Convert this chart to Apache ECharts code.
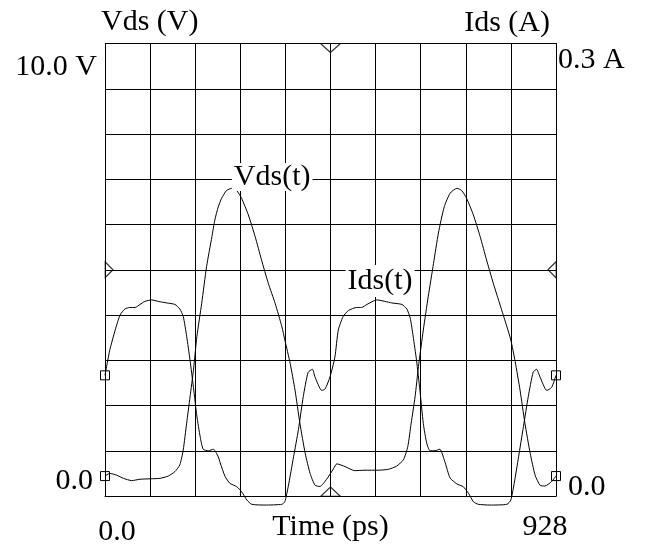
<!DOCTYPE html>
<html>
<head>
    <meta charset="utf-8">
    <script src="https://cdn.jsdelivr.net/npm/echarts@6/dist/echarts.min.js"></script>
</head>
<body style="margin:0;background:#fff">
    <div id="main" style="width:645px;height:544px;"></div>
	<script type="text/javascript">
	// time axis (ps)
	var tMin = 0, tMax = 928;
	var xTickLabels = ['0.0', '928'];
	var vLeftLabels = ['0.0', '10.0 V'];
	var iRightLabels = ['0.0', '0.3 A'];

	// Vds(t), volts
	var vdsTime = [0,10,24,38,55,72,93,113,130,144,154,161,168,175,182,189,199,209,220,226,233,240,250,261,
		271,281,295,309,322,336,350,364,370,381,391,401,412,422,432,442,456,470,477,494,514,535,562,583,
		600,614,623,630,638,645,655,665,676,686,698,710,724,734,744,758,772,785,799,813,827,835,844,854,
		864,875,885,895,905,919,928];
	var vdsVolt = [0.44,0.50,0.46,0.39,0.34,0.37,0.38,0.39,0.44,0.54,0.69,1.02,1.61,2.19,2.78,3.52,4.26,5.07,5.73,6.10,6.39,6.58,6.75,6.80,
		6.75,6.58,6.21,5.73,5.22,4.70,4.26,3.74,3.45,2.93,2.34,1.61,0.94,0.50,0.24,0.21,0.37,0.60,0.71,0.65,0.56,0.57,0.57,0.59,
		0.66,0.80,1.09,1.61,2.19,2.86,3.67,4.40,5.14,5.81,6.39,6.69,6.80,6.75,6.58,6.21,5.73,5.22,4.70,4.22,3.74,3.45,2.97,2.34,
		1.61,0.94,0.46,0.24,0.22,0.32,0.44];

	// Ids(t), amps
	var idsTime = [0,10,21,31,41,51,62,72,82,96,110,127,144,154,161,168,175,182,189,196,202,213,223,233,237,247,257,271,281,
		292,302,329,364,370,377,388,398,408,418,427,432,446,453,463,473,480,490,501,518,528,539,559,590,611,621,628,634,
		641,648,655,662,669,679,689,700,710,724,737,748,758,768,792,827,835,842,851,861,871,881,888,895,909,919,928];
	var idsAmp = [0.080,0.097,0.110,0.120,0.124,0.125,0.125,0.127,0.129,0.130,0.129,0.128,0.127,0.124,0.119,0.106,0.090,0.072,0.053,0.039,0.031,0.030,0.031,0.026,0.022,0.013,0.0084,0.0062,0.0029,
		-0.0027,-0.0055,-0.0060,-0.0055,-0.0038,0.0062,0.026,0.044,0.066,0.082,0.084,0.079,0.070,0.071,0.079,0.092,0.110,0.119,0.123,0.125,0.125,0.127,0.130,0.128,0.127,0.124,0.118,0.106,
		0.090,0.070,0.048,0.035,0.030,0.030,0.031,0.022,0.012,0.0080,0.0062,0.0018,-0.0038,-0.0055,-0.0060,-0.0055,-0.0027,0.0084,0.026,0.046,0.066,0.082,0.084,0.079,0.070,0.072,0.080];

	// trace tags and centre markers (data coords)
	var vdsTagAt = [344, 7.05];
	var idsTagAt = [566, 0.1425];
	var centreMarks = [[464, 10], [464, 0], [0, 5], [928, 5]];

	var font = "'Liberation Serif', 'Times New Roman', serif";
	var fs = 30;

	function withEnds(ts, vs) {
		return ts.map(function (t, i) {
			var end = (i === 0 || i === ts.length - 1);
			return { value: [t, vs[i]], symbol: end ? 'rect' : 'none', symbolSize: 9 };
		});
	}

	var markStyle = [
		{ symbolRotate: 180, symbolSize: [20, 9], symbolOffset: [0, 4.5] },
		{ symbolRotate: 0, symbolSize: [19, 9], symbolOffset: [0, -4.5] },
		{ symbolRotate: -90, symbolSize: [16, 8], symbolOffset: [4, 0] },
		{ symbolRotate: 90, symbolSize: [16, 8], symbolOffset: [-4, 0] }
	];

	var myChart = echarts.init(document.getElementById('main'));
	myChart.setOption({
		backgroundColor: '#fff',
		animation: false,
		textStyle: { fontFamily: font, color: '#000' },
		grid: { left: 105, right: 89, top: 43.5, bottom: 48, outerBoundsMode: 'none', containLabel: false },
		xAxis: {
			type: 'value', min: tMin, max: tMax, interval: 92.8,
			name: 'Time (ps)', nameLocation: 'middle', nameGap: 31, nameMoveOverlap: false,
			nameTextStyle: { fontSize: fs, fontFamily: font, color: '#000', verticalAlign: 'middle' },
			axisLine: { show: true, lineStyle: { color: '#000', width: 1 } },
			axisTick: { show: false },
			splitLine: { show: true, lineStyle: { color: '#000', width: 1 } },
			axisLabel: {
				margin: 31, verticalAlign: 'middle', color: '#000',
				formatter: function (v) {
					if (v === tMin) return '{a|' + xTickLabels[0] + '}';
					if (Math.abs(v - tMax) < 1e-6) return '{b|' + xTickLabels[1] + '}';
					return '';
				},
				rich: {
					a: { fontSize: fs, fontFamily: font, color: '#000', padding: [10, 0, 0, 24] },
					b: { fontSize: fs, fontFamily: font, color: '#000', padding: [0, 22, 0, 0] }
				}
			}
		},
		yAxis: [{
			type: 'value', min: 0, max: 10, interval: 1, position: 'left',
			name: 'Vds (V)', nameLocation: 'end', nameGap: 21, nameMoveOverlap: false,
			nameTextStyle: { fontSize: fs, fontFamily: font, color: '#000', align: 'left', verticalAlign: 'middle', padding: [0, 0, 0, -4] },
			axisLine: { show: true, lineStyle: { color: '#000', width: 1 } },
			axisTick: { show: false },
			splitLine: { show: true, lineStyle: { color: '#000', width: 1 } },
			axisLabel: {
				margin: 8, color: '#000',
				formatter: function (v) {
					if (v === 0) return '{b|' + vLeftLabels[0] + '}';
					if (v === 10) return '{t|' + vLeftLabels[1] + '}';
					return '';
				},
				rich: {
					t: { fontSize: fs, fontFamily: font, color: '#000', padding: [47, 0, 0, 0] },
					b: { fontSize: fs, fontFamily: font, color: '#000', padding: [0, 4, 30, 0] }
				}
			}
		}, {
			type: 'value', min: 0, max: 0.3, interval: 0.03, position: 'right',
			name: 'Ids (A)', nameLocation: 'end', nameGap: 20, nameMoveOverlap: false,
			nameTextStyle: { fontSize: fs, fontFamily: font, color: '#000', align: 'right', verticalAlign: 'middle', padding: [0, 6, 0, 0] },
			axisLine: { show: true, lineStyle: { color: '#000', width: 1 } },
			axisTick: { show: false },
			splitLine: { show: false },
			axisLabel: {
				margin: 2, color: '#000',
				formatter: function (v) {
					if (v === 0) return '{b|' + iRightLabels[0] + '}';
					if (Math.abs(v - 0.3) < 1e-9) return '{t|' + iRightLabels[1] + '}';
					return '';
				},
				rich: {
					t: { fontSize: fs, fontFamily: font, color: '#000', padding: [33, 0, 0, 0] },
					b: { fontSize: fs, fontFamily: font, color: '#000', padding: [0, 0, 18, 10] }
				}
			}
		}],
		series: [
			{
				name: 'Vds(t)', type: 'line', yAxisIndex: 0, clip: false, smooth: 0.2,
				data: withEnds(vdsTime, vdsVolt),
				symbol: 'rect', showSymbol: true,
				itemStyle: { color: 'rgba(0,0,0,0)', borderColor: '#000', borderWidth: 1 },
				lineStyle: { color: '#000', width: 1 },
				markPoint: {
					symbol: 'rect', symbolSize: 1, itemStyle: { color: 'rgba(0,0,0,0)' },
					label: { show: true, position: 'inside', formatter: '{b}', fontSize: fs, fontFamily: font, color: '#000', backgroundColor: '#fff', padding: [0, 2], lineHeight: 28 },
					data: [{ name: 'Vds(t)', coord: vdsTagAt }]
				}
			},
			{
				name: 'Ids(t)', type: 'line', yAxisIndex: 1, clip: false, smooth: 0.2,
				data: withEnds(idsTime, idsAmp),
				symbol: 'rect', showSymbol: true,
				itemStyle: { color: 'rgba(0,0,0,0)', borderColor: '#000', borderWidth: 1 },
				lineStyle: { color: '#000', width: 1 },
				markPoint: {
					symbol: 'rect', symbolSize: 1, itemStyle: { color: 'rgba(0,0,0,0)' },
					label: { show: true, position: 'inside', formatter: '{b}', fontSize: fs, fontFamily: font, color: '#000', backgroundColor: '#fff', padding: [2, 2], lineHeight: 28 },
					data: [{ name: 'Ids(t)', coord: idsTagAt }]
				}
			},
			{
				type: 'scatter', yAxisIndex: 0, clip: false, silent: true, symbol: 'triangle',
				itemStyle: { color: 'rgba(0,0,0,0)', borderColor: '#000', borderWidth: 1 },
				data: centreMarks.map(function (p, i) {
					return Object.assign({ value: p }, markStyle[i]);
				})
			}
		]
	});
	</script>
</body>
</html>
